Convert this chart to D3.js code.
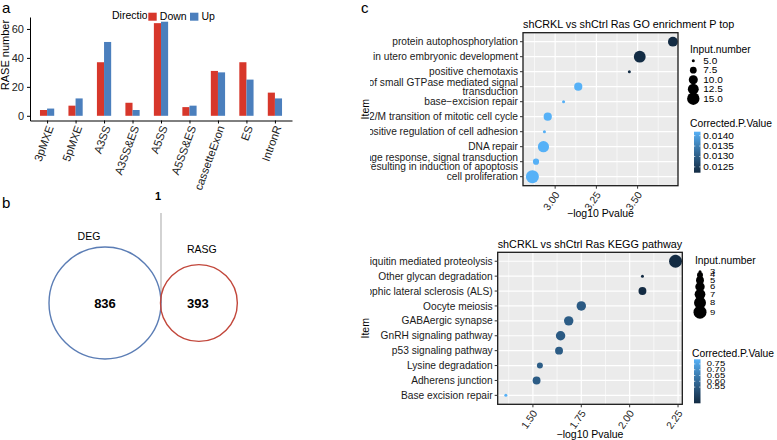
<!DOCTYPE html>
<html><head><meta charset="utf-8">
<script src="https://cdn.jsdelivr.net/npm/d3@7"></script>
<style>
body{margin:0;background:#fff;}
svg{font-family:"Liberation Sans",Arial,Helvetica,sans-serif;display:block;}
</style></head><body>
<svg id="fig" width="777" height="440"></svg>
<script>
// ---------------- data ----------------
const rasTypes = ["3pMXE","5pMXE","A3SS","A3SS&ES","A5SS","A5SS&ES","cassetteExon","ES","IntronR"];
const rasDown = [4,7,37,9,64,6,31,37,16];
const rasUp = [5,12,51,4,65,7,30,25,12];
const directions = ["Down","Up"];
const rasYTicks = [0,20,40,60];

const vennSets = ["DEG","RASG"];
const vennUnique = [836,393];
const vennShared = 1;

const goTerms = ["protein autophosphorylation","in utero embryonic development","positive chemotaxis",
  "regulation of small GTPase mediated signal\ntransduction","base\u2212excision repair",
  "G2/M transition of mitotic cell cycle","positive regulation of cell adhesion","DNA repair",
  "DNA damage response, signal transduction\nresulting in induction of apoptosis","cell proliferation"];
const goLogP = [3.714,3.513,3.450,3.140,3.051,2.955,2.935,2.929,2.884,2.862];
const goInput = [11,14,5,9,5,9,5,13,7,16];
const goPadj = [0.01222,0.01223,0.01225,0.01419,0.01418,0.01419,0.01417,0.01419,0.01418,0.01419];
const goSizeBreaks = [5,7.5,10,12.5,15];
const goPadjBreaks = [0.0140,0.0135,0.0130,0.0125];
const goXTicks = [3.00,3.25,3.50];

const keggTerms = ["Ubiquitin mediated proteolysis","Other glycan degradation","Amyotrophic lateral sclerosis (ALS)",
  "Oocyte meiosis","GABAergic synapse","GnRH signaling pathway","p53 signaling pathway","Lysine degradation",
  "Adherens junction","Base excision repair"];
const keggLogP = [2.237,2.066,2.066,1.750,1.685,1.643,1.635,1.536,1.519,1.360];
const keggInput = [9,3,5,6,6,6,5,4,5,3];
const keggPadj = [0.41,0.41,0.41,0.555,0.56,0.555,0.56,0.565,0.56,0.79];
const keggSizeBreaks = [3,4,5,6,7,8,9];
const keggPadjBreaks = [0.75,0.70,0.65,0.60,0.55];
const keggXTicks = [1.50,1.75,2.00,2.25];

// ---------------- drawing ----------------
const svg = d3.select("#fig");
const FF = '"Liberation Sans",Arial,Helvetica,sans-serif';
const defs = svg.append("defs");
defs.append("clipPath").attr("id","clipLabels")
  .append("rect").attr("x",370).attr("y",0).attr("width",407).attr("height",440);

// panel labels
[["a",2,13],["b",2,208],["c",361,13]].forEach(([t,x,y]) =>
  svg.append("text").attr("x",x).attr("y",y).attr("font-size",15).text(t));

// ===== Panel a =====
const gA = svg.append("g");
const xA = d3.scalePoint().domain(rasTypes).range([30,292]).padding(0.6);
const yA = d3.scaleLinear().domain([-3.25,68.25]).range([120.5,17]);
const dirX = d3.scaleBand().domain(directions).range([-xA.step()*0.25, xA.step()*0.25]);
const dirColor = d3.scaleOrdinal().domain(directions).range(["#D7372B","#4B7FBD"]);
const rasRows = rasTypes.map((t,i)=>({type:t, Down:rasDown[i], Up:rasUp[i]}));

gA.selectAll("g.cat").data(rasRows).join("g").attr("class","cat")
  .attr("transform",d=>`translate(${xA(d.type)},0)`)
  .selectAll("rect").data(d=>directions.map(k=>({k,v:d[k]}))).join("rect")
  .attr("x",d=>dirX(d.k)).attr("width",dirX.bandwidth())
  .attr("y",d=>yA(d.v)).attr("height",d=>yA(0)-yA(d.v))
  .attr("fill",d=>dirColor(d.k));

const axAL = gA.append("g").attr("transform","translate(30,0)")
  .call(d3.axisLeft(yA).tickValues(rasYTicks).tickSize(3).tickSizeOuter(0))
  .attr("font-family",FF).attr("font-size",11);
axAL.selectAll("text").attr("fill","#222");
const axAB = gA.append("g").attr("transform","translate(0,120.5)")
  .call(d3.axisBottom(xA).tickSize(3).tickSizeOuter(0));
axAB.selectAll("text").remove();
gA.selectAll("text.xl").data(rasTypes).join("text").attr("class","xl")
  .attr("transform",d=>`translate(${xA(d)+3},126) rotate(-70)`)
  .attr("text-anchor","end").attr("dy","0.35em").attr("font-size",11.3).attr("fill","#222")
  .text(d=>d);
gA.append("text").attr("transform","translate(5,55) rotate(-90)").attr("text-anchor","middle")
  .attr("dy","0.35em").attr("font-size",11).text("RASE number");

// legend
gA.append("text").attr("x",112).attr("y",19).attr("font-size",10.5).text("Direction");
const legX = [148.3,190];
directions.forEach((d,i)=>{
  gA.append("rect").attr("x",legX[i]-1).attr("y",11.7).attr("width",10.4).attr("height",10).attr("fill","#fff");
  gA.append("rect").attr("x",legX[i]).attr("y",12.7).attr("width",8.4).attr("height",8).attr("fill",dirColor(d));
  gA.append("text").attr("x",legX[i]+11.5).attr("y",19.5).attr("font-size",10.5).text(d);
});

// ===== Panel b (Venn) =====
const gB = svg.append("g");
const rVenn = d3.scaleSqrt().domain([0, vennUnique[0]+vennShared]).range([0,56]);
const r1 = rVenn(vennUnique[0]+vennShared), r2 = rVenn(vennUnique[1]+vennShared);
const cy = 303, cx1 = 105, cx2 = cx1 + r1 + r2 - 0.5;
gB.append("line").attr("x1",cx1+r1).attr("x2",cx1+r1).attr("y1",213).attr("y2",cy).attr("stroke","#b5b5b5").attr("stroke-width",1.2);
gB.append("circle").attr("cx",cx1).attr("cy",cy).attr("r",r1).attr("fill","none").attr("stroke","#5B7DB5").attr("stroke-width",1.4);
gB.append("circle").attr("cx",cx2).attr("cy",cy).attr("r",r2).attr("fill","none").attr("stroke","#C2473B").attr("stroke-width",1.4);
gB.append("text").attr("x",cx1-16).attr("y",240).attr("text-anchor","middle").attr("font-size",10.5).text(vennSets[0]);
gB.append("text").attr("x",cx2+3).attr("y",253).attr("text-anchor","middle").attr("font-size",10.5).text(vennSets[1]);
gB.append("text").attr("x",cx1).attr("y",cy+5).attr("text-anchor","middle").attr("font-size",13).attr("font-weight","bold").text(vennUnique[0]);
gB.append("text").attr("x",cx2-1).attr("y",cy+5).attr("text-anchor","middle").attr("font-size",13).attr("font-weight","bold").text(vennUnique[1]);
gB.append("text").attr("x",cx1+r1-3).attr("y",200).attr("text-anchor","middle").attr("font-size",11).attr("font-weight","bold").text(vennShared);

// ===== Panel c (dot plots) =====
const gC = svg.append("g");

function squishText(g, x, y, txt, fs, sy){
  return g.append("text").attr("transform",`translate(${x},${y}) scale(1,${sy})`)
    .attr("dy","0.35em").attr("font-size",fs).text(txt);
}

function dotPanel(cfg){
  const g = gC.append("g");
  const x = d3.scaleLinear().domain(cfg.xDomain).range([cfg.l,cfg.r]);
  const y = d3.scalePoint().domain(cfg.terms).range([cfg.t,cfg.b]).padding(0.6);
  const size = d3.scaleRadial().domain(d3.extent(cfg.input)).range([1.5,6.5]);
  const col = d3.scaleLinear().domain(d3.extent(cfg.padj)).range(["#132B43","#56B1F7"]).interpolate(d3.interpolateLab);
  g.append("rect").attr("x",cfg.l).attr("y",cfg.t).attr("width",cfg.r-cfg.l).attr("height",cfg.b-cfg.t).attr("fill","#EBEBEB");
  const tk = cfg.xTicks, half = (tk[1]-tk[0])/2;
  const minor = [tk[0]-half, ...tk.map(t=>t+half)].filter(v=>v>cfg.xDomain[0]&&v<cfg.xDomain[1]);
  g.selectAll("line.mn").data(minor).join("line").attr("x1",x).attr("x2",x).attr("y1",cfg.t).attr("y2",cfg.b)
    .attr("stroke","#fff").attr("stroke-width",0.6);
  g.selectAll("line.mj").data(tk).join("line").attr("x1",x).attr("x2",x).attr("y1",cfg.t).attr("y2",cfg.b)
    .attr("stroke","#fff").attr("stroke-width",1.2);
  g.selectAll("line.hy").data(cfg.terms).join("line").attr("x1",cfg.l).attr("x2",cfg.r).attr("y1",d=>y(d)).attr("y2",d=>y(d))
    .attr("stroke","#fff").attr("stroke-width",1.2);
  const rows = cfg.terms.map((t,i)=>({t, v:cfg.logp[i], n:cfg.input[i], p:cfg.padj[i]}));
  g.selectAll("circle.pt").data(rows).join("circle").attr("cx",d=>x(d.v)).attr("cy",d=>y(d.t))
    .attr("r",d=>size(d.n)).attr("fill",d=>col(d.p));
  g.append("rect").attr("x",cfg.l).attr("y",cfg.t).attr("width",cfg.r-cfg.l).attr("height",cfg.b-cfg.t)
    .attr("fill","none").attr("stroke","#1a1a1a").attr("stroke-width",1.3);
  // y axis
  g.selectAll("line.yt").data(cfg.terms).join("line").attr("x1",cfg.l-3).attr("x2",cfg.l).attr("y1",d=>y(d)).attr("y2",d=>y(d)).attr("stroke","#333");
  const gl = g.append("g").attr("clip-path","url(#clipLabels)");
  cfg.terms.forEach(t=>{
    const lines = t.split("\n");
    const lh = 9.4;
    const tx = gl.append("text").attr("text-anchor","end").attr("font-size",10.2).attr("fill","#1a1a1a");
    lines.forEach((ln,j)=>tx.append("tspan").attr("x",cfg.l-5).attr("y",y(t)+(j-(lines.length-1)/2)*lh).attr("dy","0.35em").text(ln));
  });
  // x axis
  g.selectAll("line.xt").data(tk).join("line").attr("x1",x).attr("x2",x).attr("y1",cfg.b).attr("y2",cfg.b+3).attr("stroke","#333");
  g.selectAll("text.xtl").data(tk).join("text").attr("class","xtl")
    .attr("transform",d=>`translate(${x(d)+2},${cfg.b+7}) rotate(-55)`).attr("text-anchor","end").attr("dy","0.35em")
    .attr("font-size",10.3).attr("fill","#1a1a1a").text(d3.format(".2f"));
  g.append("text").attr("x",(cfg.l+cfg.r)/2).attr("y",cfg.xTitleY).attr("text-anchor","middle").attr("font-size",10.5).text("\u2212log10 Pvalue");
  g.append("text").attr("transform",`translate(${cfg.itemX},${(cfg.t+cfg.b)/2}) rotate(-90)`).attr("text-anchor","middle").attr("dy","0.35em").attr("font-size",10.5).text("Item");
  g.append("text").attr("x",cfg.l).attr("y",cfg.t-4.5).attr("font-size",10.8).text(cfg.title);
  // size legend
  const L = cfg.leg;
  g.append("text").attr("x",L.sizeTitleX).attr("y",L.sizeTitleY).attr("font-size",10.3).text("Input.number");
  let cyPos = [];
  if (L.sizeStep) cyPos = cfg.sizeBreaks.map((b,i)=>L.sizeY0+i*L.sizeStep);
  else { let c=L.sizeY0; cfg.sizeBreaks.forEach((b,i)=>{ if(i>0) c += 0.75*(size(cfg.sizeBreaks[i-1])+size(b)); cyPos.push(c); }); }
  cfg.sizeBreaks.forEach((b,i)=>{
    g.append("circle").attr("cx",L.sizeCx).attr("cy",cyPos[i]).attr("r",size(b)).attr("fill","#000");
    squishText(g, L.sizeLabX, cyPos[i], L.sizeFmt(b), L.labFs, L.labSy);
  });
  // colour legend
  g.append("text").attr("x",L.colTitleX).attr("y",L.colTitleY).attr("font-size",10.3).text("Corrected.P.Value");
  const cb = d3.scaleLinear().domain(d3.extent(cfg.padj)).range([L.cbBottom,L.cbTop]);
  const gid = "grad"+cfg.id;
  const grad = defs.append("linearGradient").attr("id",gid).attr("x1",0).attr("y1",1).attr("x2",0).attr("y2",0);
  d3.range(0,1.0001,0.1).forEach(o=>grad.append("stop").attr("offset",o).attr("stop-color",col(cb.domain()[0]+o*(cb.domain()[1]-cb.domain()[0]))));
  g.append("rect").attr("x",694).attr("y",L.cbTop).attr("width",6.5).attr("height",L.cbBottom-L.cbTop).attr("fill",`url(#${gid})`);
  cfg.padjBreaks.forEach(b=>{
    g.append("line").attr("x1",694).attr("x2",695.3).attr("y1",cb(b)).attr("y2",cb(b)).attr("stroke","#fff").attr("stroke-width",0.7);
    g.append("line").attr("x1",699.2).attr("x2",700.5).attr("y1",cb(b)).attr("y2",cb(b)).attr("stroke","#fff").attr("stroke-width",0.7);
    squishText(g, L.cbLabX, cb(b), L.colFmt(b), L.labFs, L.cbSy);
  });
}

dotPanel({id:"go", l:523, r:678, t:32.7, b:185.7, xDomain:[2.805,3.745], terms:goTerms, logp:goLogP, input:goInput, padj:goPadj,
  xTicks:goXTicks, sizeBreaks:goSizeBreaks, padjBreaks:goPadjBreaks, xTitleY:216.5, itemX:365,
  title:"shCRKL vs shCtrl Ras GO enrichment P top",
  leg:{sizeTitleX:690, sizeTitleY:52.7, sizeY0:60.7, sizeStep:9.5, sizeCx:693.3, sizeLabX:703.3, sizeFmt:d3.format(".1f"),
       labFs:10, labSy:0.85, cbSy:0.85,
       colTitleX:690, colTitleY:127, cbTop:131.7, cbBottom:172.7, cbLabX:703.3, colFmt:d3.format(".4f")}});

dotPanel({id:"kegg", l:497.7, r:682.3, t:252.3, b:404.3, xDomain:[1.318,2.272], terms:keggTerms, logp:keggLogP, input:keggInput, padj:keggPadj,
  xTicks:keggXTicks, sizeBreaks:keggSizeBreaks, padjBreaks:keggPadjBreaks, xTitleY:437.8, itemX:365,
  title:"shCRKL vs shCtrl Ras KEGG pathway",
  leg:{sizeTitleX:695, sizeTitleY:264.3, sizeY0:271.7, sizeStep:0, sizeCx:700, sizeLabX:710, sizeFmt:d3.format("d"),
       labFs:9.5, labSy:0.7, cbSy:0.7,
       colTitleX:692, colTitleY:357, cbTop:359.3, cbBottom:403.3, cbLabX:706.7, colFmt:d3.format(".2f")}});
</script>
</body></html>
